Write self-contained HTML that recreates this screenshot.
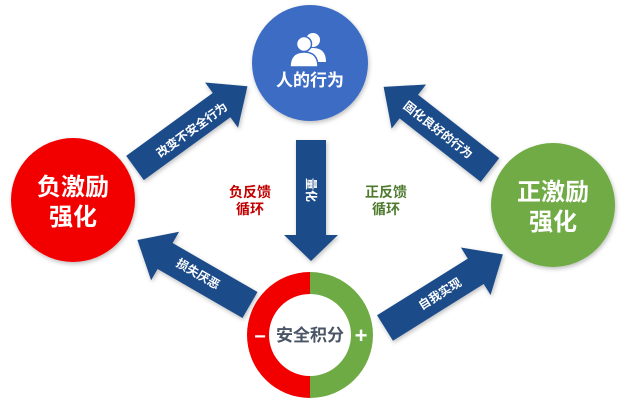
<!DOCTYPE html>
<html><head><meta charset="utf-8"><style>
body{margin:0;background:#fff;}
svg{display:block;font-family:"Liberation Sans","Noto Sans CJK SC",sans-serif;font-weight:bold;}
</style></head><body>
<svg width="630" height="414" viewBox="0 0 630 414">
<defs>
<filter id="sh" x="-20%" y="-20%" width="140%" height="140%"><feDropShadow dx="1" dy="2" stdDeviation="2" flood-color="#000" flood-opacity="0.25"/></filter>
</defs>
<!-- circles -->
<circle cx="310" cy="63" r="58" fill="#3d6cc4" filter="url(#sh)"/>
<g fill="#fff">
<circle cx="313" cy="40" r="7"/><path d="M300 62 q0-14 13-14 q13 0 13 14z"/>
<circle cx="304" cy="44" r="7.5" stroke="#3d6cc4" stroke-width="1.5"/><path d="M290 67 q0-15 14-15 q14 0 14 15z" stroke="#3d6cc4" stroke-width="1.5"/>
</g>
<text x="310" y="86" font-size="17" fill="#fff" text-anchor="middle">人的行为</text>

<circle cx="73" cy="200" r="62" fill="#f20000" filter="url(#sh)"/>
<text x="73" y="195" font-size="24" fill="#fff" text-anchor="middle">负激励</text>
<text x="73" y="225" font-size="24" fill="#fff" text-anchor="middle">强化</text>

<circle cx="553" cy="205" r="62" fill="#6fab45" filter="url(#sh)"/>
<text x="553" y="200" font-size="24" fill="#fff" text-anchor="middle">正激励</text>
<text x="553" y="230" font-size="24" fill="#fff" text-anchor="middle">强化</text>

<!-- ring -->
<path d="M310 272 A63 63 0 0 0 310 398 L310 376 A41 41 0 0 1 310 294Z" fill="#f20000"/>
<path d="M310 272 A63 63 0 0 1 310 398 L310 376 A41 41 0 0 0 310 294Z" fill="#6fab45"/>
<text x="310" y="341" font-size="17" fill="#4a5566" text-anchor="middle">安全积分</text>
<text x="260" y="343" font-size="20" fill="#fff" text-anchor="middle">−</text>
<text x="361" y="343" font-size="22" fill="#fff" text-anchor="middle">+</text>

<!-- arrows: local shape from 0 to L along x -->
<g fill="#1f4c8a" filter="url(#sh)">
<g transform="translate(135,168) rotate(-36)"><polygon points="0,-15 107,-15 107,-28 139,0 107,28 107,15 0,15"/></g>
<g transform="translate(250,305) rotate(-150)"><polygon points="0,-15 98,-15 98,-28 130,0 98,28 98,15 0,15"/></g>
<g transform="translate(490,170) rotate(-142)"><polygon points="0,-15 103,-15 103,-28 135,0 103,28 103,15 0,15"/></g>
<g transform="translate(385,328) rotate(-32)"><polygon points="0,-15 107,-15 107,-28 139,0 107,28 107,15 0,15"/></g>
<polygon points="296,140 326,140 326,235 338,235 311,261 284,235 296,235"/>
</g>
<g fill="#fff" font-size="12">
<text transform="translate(192,130) rotate(-36)" text-anchor="middle" dy="4">改变不安全行为</text>
<text transform="translate(198,274) rotate(30)" text-anchor="middle" dy="4">损失厌恶</text>
<text transform="translate(438,130) rotate(38)" text-anchor="middle" dy="4">固化良好的行为</text>
<text transform="translate(440,294) rotate(-32)" text-anchor="middle" dy="4">自我实现</text>
<text transform="translate(311,190) rotate(90)" text-anchor="middle" dy="4">量化</text>
</g>
<g font-size="14" text-anchor="middle">
<text x="250" y="197" fill="#c00000">负反馈</text>
<text x="250" y="214" fill="#c00000">循环</text>
<text x="386" y="197" fill="#4e7a2e">正反馈</text>
<text x="386" y="214" fill="#4e7a2e">循环</text>
</g>
</svg>
</body></html>
